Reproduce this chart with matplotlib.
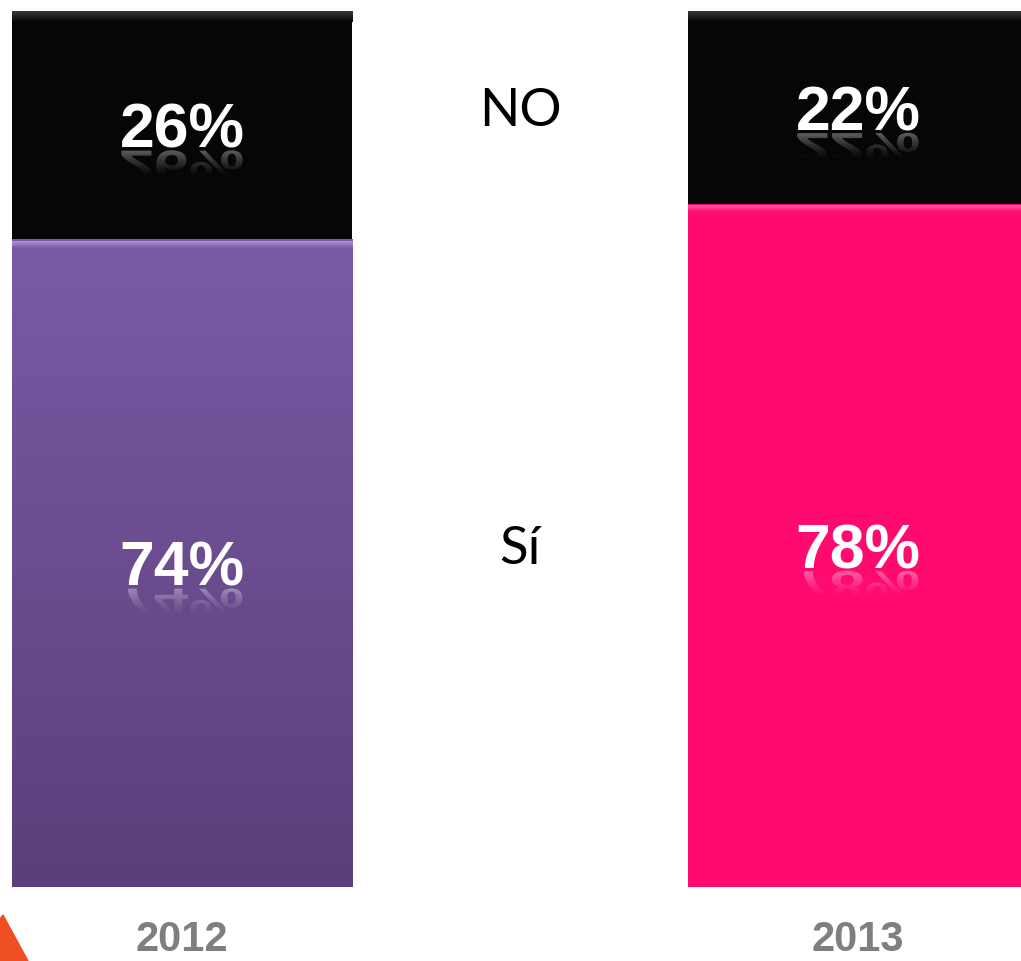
import matplotlib.pyplot as plt
import numpy as np
from matplotlib.colors import LinearSegmentedColormap
from matplotlib.patches import Polygon
from matplotlib.textpath import TextPath
from matplotlib.font_manager import FontProperties
from matplotlib.transforms import Affine2D

years = ["2012", "2013"]
si = [74, 78]
no = [26, 22]
si_labels = ["74%", "78%"]
no_labels = ["26%", "22%"]

fig = plt.figure(figsize=(10.21, 9.61), dpi=100)
ax = fig.add_axes([0, 74 / 961, 1, 876 / 961])
x = np.arange(len(years))
w = 0.503
ax.set_xlim(-182 / 676, 839 / 676)
ax.set_ylim(0, 100)
ax.axis("off")

bars_si = ax.bar(x, si, width=w, color=["#6e4f96", "#ff0a6e"], zorder=2)
bars_no = ax.bar(x, no, bottom=si, width=w, color="#060606", zorder=2)


def strip(bar, y0, y1, c0, c1, z=3):
    cm = LinearSegmentedColormap.from_list("s", [c0, c1])
    im = ax.imshow(np.linspace(0, 1, 128).reshape(-1, 1), cmap=cm, origin="lower", aspect="auto",
                   interpolation="bilinear",
                   extent=[bar.get_x(), bar.get_x() + bar.get_width(), y0, y1], zorder=z)
    im.set_clip_path(bar)


# purple gradient on the 2012 bar, then bevel highlights
strip(bars_si[0], 0, si[0], "#5b3f7a", "#7a5aa6")
strip(bars_si[0], si[0] - 1.0, si[0] - 0.3, "#7a5aa6", "#b096dc", 4)
strip(bars_si[1], si[1] - 1.0, si[1] - 0.3, "#ff0a6e", "#ff5aa0", 4)
for bar in bars_no:
    strip(bar, 98.7, 100, "#060606", "#3c3c3c", 4)

fs = 45
fp = FontProperties(family="Liberation Sans", weight="bold")
px = fs * 100 / 72


def label(xc, base, s):
    ax.text(xc, base, s, color="white", ha="center", va="baseline", fontsize=fs,
            fontproperties=fp, zorder=6)
    # faded reflection under the baseline
    tp = TextPath((0, 0), s, size=px, prop=fp)
    ext = tp.get_extents()
    x0, y0 = ax.transData.transform((xc, base))
    tr = Affine2D().translate(-ext.x0 - ext.width / 2, 0).scale(1, -0.7).translate(x0, y0 - 3)
    rgba = np.ones((64, 1, 4))
    rgba[:, 0, 3] = np.linspace(0.0, 0.5, 64) ** 1.3
    ref = ax.imshow(rgba, origin="lower", aspect="auto", interpolation="bilinear",
                    extent=[xc - 0.2, xc + 0.2, base - 3.4, base], zorder=5)
    ref.set_clip_path(tp, tr)


for i in range(len(years)):
    label(x[i], si[i] + no[i] / 2 - 2.6, no_labels[i])
    label(x[i], si[i] / 2 - 2.6, si_labels[i])

ax.set_xlim(-182 / 676, 839 / 676)
ax.set_ylim(0, 100)

ax.text(0.5, 100 - 11.5, "NO", ha="center", va="center", fontsize=38, family="Lato")
ax.text(0.5, 100 - 61.5, "Sí", ha="center", va="center", fontsize=38, family="Lato")

for i, y in enumerate(years):
    fig.text((182 + 676 * i) / 1021, 1 - 940 / 961, y, ha="center", va="center", fontsize=30,
             fontweight="bold", color="#7f7f7f", family="Liberation Sans")

fig.patches.append(Polygon([[0, 0], [0, 42 / 961], [3 / 1021, 46 / 961], [28 / 1021, 0]],
                           closed=True, transform=fig.transFigure, color="#f04e23"))

fig.savefig("out.png", dpi=100)
